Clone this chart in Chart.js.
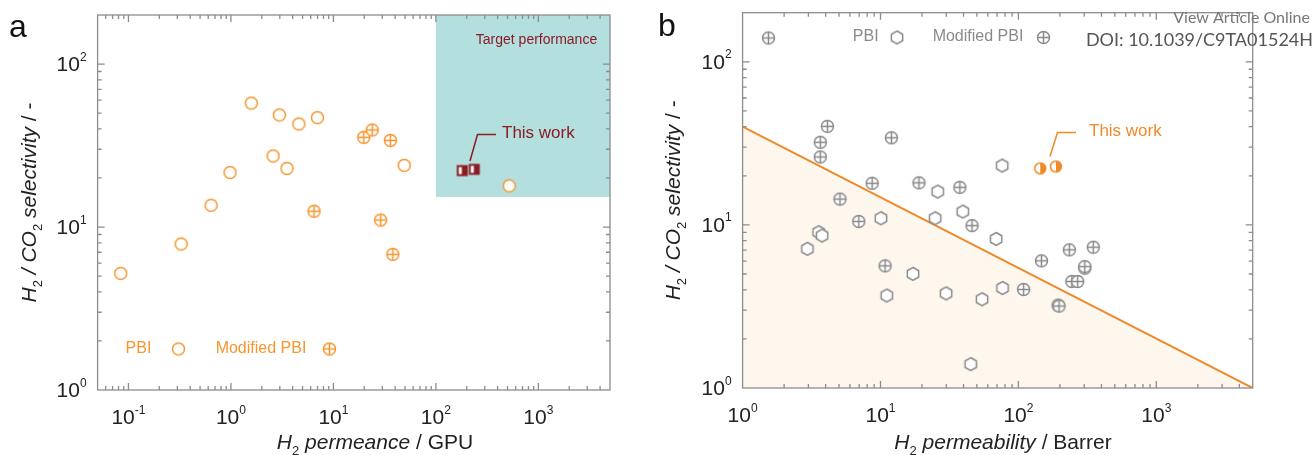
<!DOCTYPE html>
<html>
<head>
<meta charset="utf-8">
<script src="https://cdn.jsdelivr.net/npm/chart.js@4.4.1/dist/chart.umd.min.js"></script>
<style>
  html, body { margin: 0; padding: 0; background: #fff; overflow: hidden; }
  #wrap { position: relative; width: 1314px; height: 455px; }
  canvas { position: absolute; top: 0; }
  #ca { left: 0; }
  #cb { left: 657px; }
</style>
</head>
<body>
<div id="wrap">
  <canvas id="ca" width="657" height="455"></canvas>
  <canvas id="cb" width="657" height="455"></canvas>
</div>
<script>
// panel a: H2 permeance (GPU) vs H2/CO2 selectivity
const pbiA_x = [0.084, 0.327, 0.64, 0.98, 1.58, 2.58, 2.97, 3.52, 4.6, 6.98, 49.1, 520];
const pbiA_y = [5.2, 7.87, 13.6, 21.6, 57.6, 27.3, 48.7, 22.9, 42.9, 46.9, 23.9, 17.9];
const modA_x = [6.47, 19.8, 23.9, 36, 28.9, 38];
const modA_y = [12.5, 35.5, 39.4, 34, 11.04, 6.8];
const workA_x = [181, 237];
const workA_y = [22.2, 22.6];
const targetA = { xMin: 100, yMin: 15.3 };   // target performance box (to the top-right corner)

// panel b: H2 permeability (Barrer) vs H2/CO2 selectivity
const pbiB_x = [2.95, 3.56, 3.77, 10.07, 11.1, 17.2, 26, 24.9, 29.9, 39.5, 54.5, 45.1, 69, 76.2, 76.7];
const pbiB_y = [7.13, 9.02, 8.6, 10.98, 3.69, 5.01, 16.0, 10.98, 3.8, 12.07, 3.5, 1.40, 8.2, 23.1, 4.1];
const modB_x = [1.54, 3.66, 3.66, 4.12, 5.08, 6.96, 8.7, 12.0, 10.8, 19.0, 37.6, 46.1, 109, 147, 194, 197, 234, 244, 269, 303, 303, 349];
const modB_y = [140, 32.1, 26.1, 40.2, 14.4, 10.5, 18.0, 34.2, 5.61, 18.1, 17.0, 9.9, 4.02, 6.02, 3.22, 3.18, 7.03, 4.5, 4.5, 5.43, 5.55, 7.3];
const workB_x = [144, 187];
const workB_y = [22.2, 22.8];
const boundB_x = [1, 5000];
const boundB_y = [40, 1];

const ORANGE = '#f5962f';
const LINE_OR = '#ef8a2a';
const GRAY = '#8a8a8a';
const DARKRED = '#8b1c24';
const TEAL = '#b4dfdf';
const FRAME = '#8c8c8c';
const FONT = '"Liberation Sans", Arial, sans-serif';

const pts = (xs, ys) => xs.map((x, i) => ({ x, y: ys[i] }));

// marker images used as pointStyle
function marker(kind, r, color) {
  const lw = 1.5;
  const s = Math.ceil(2 * r + 2 * lw + 2);
  const c = document.createElement('canvas');
  c.width = c.height = s;
  const g = c.getContext('2d');
  const m = s / 2;
  g.lineWidth = lw; g.strokeStyle = color; g.fillStyle = '#fff';
  if (kind === 'circle' || kind === 'circlePlus') {
    g.beginPath(); g.arc(m, m, r, 0, Math.PI * 2); g.fill(); g.stroke();
    if (kind === 'circlePlus') {
      g.beginPath(); g.moveTo(m - r, m); g.lineTo(m + r, m); g.moveTo(m, m - r); g.lineTo(m, m + r); g.stroke();
    }
  } else if (kind === 'hex') {
    g.beginPath();
    for (let k = 0; k < 6; k++) {
      const a = -Math.PI / 2 + k * Math.PI / 3;
      const px = m + r * Math.cos(a), py = m + r * Math.sin(a);
      k ? g.lineTo(px, py) : g.moveTo(px, py);
    }
    g.closePath(); g.fill(); g.stroke();
  } else if (kind === 'halfSquare') {
    g.fillStyle = color; g.fillRect(m - r, m - r, 2 * r, 2 * r);
    g.fillStyle = '#fff'; g.fillRect(m - r + 2, m - r + 2, r - 2.5, 2 * r - 4);
  } else if (kind === 'halfCircle') {
    g.beginPath(); g.arc(m, m, r, 0, Math.PI * 2); g.fill();
    g.fillStyle = color;
    g.beginPath(); g.arc(m, m, r, -Math.PI / 2, Math.PI / 2); g.closePath(); g.fill();
    g.beginPath(); g.arc(m, m, r, 0, Math.PI * 2); g.stroke();
  }
  return c;
}

const mk = {
  circA: marker('circle', 6, ORANGE),
  plusA: marker('circlePlus', 6, ORANGE),
  sqA: marker('halfSquare', 5.5, DARKRED),
  hexB: marker('hex', 6.5, GRAY),
  plusB: marker('circlePlus', 6, GRAY),
  halfB: marker('halfCircle', 5.5, LINE_OR),
};

// rich text: segments [text, style] with style 'i' italic, 'n' normal, 's' subscript, 'p' superscript
function segFont(st, size) {
  if (st === 's') return `${Math.round(size * 0.62)}px ${FONT}`;
  if (st === 'p') return `${Math.round(size * 0.58)}px ${FONT}`;
  return `${st === 'i' ? 'italic ' : ''}${size}px ${FONT}`;
}
function richWidth(ctx, segs, size) {
  let w = 0;
  for (const [t, st] of segs) { ctx.font = segFont(st, size); w += ctx.measureText(t).width; }
  return w;
}
function richDraw(ctx, segs, size, x, y) {
  for (const [t, st] of segs) {
    ctx.font = segFont(st, size);
    const dy = st === 's' ? size * 0.3 : st === 'p' ? -size * 0.5 : 0;
    ctx.fillText(t, x, y + dy);
    x += ctx.measureText(t).width;
  }
}

function drawFrame(chart) {
  const { ctx, chartArea: a, scales: { x, y } } = chart;
  ctx.save();
  ctx.strokeStyle = FRAME; ctx.lineWidth = 1.3;
  ctx.strokeRect(a.left, a.top, a.right - a.left, a.bottom - a.top);
  ctx.beginPath();
  const ticks = (sc, fn) => {
    const e0 = Math.floor(Math.log10(sc.min)), e1 = Math.ceil(Math.log10(sc.max));
    for (let e = e0; e <= e1; e++) for (let k = 1; k <= 9; k++) {
      const v = k * Math.pow(10, e);
      if (v <= sc.min * 1.0001 || v >= sc.max * 0.9999) continue;
      fn(sc.getPixelForValue(v), k === 1 ? 7 : 4);
    }
  };
  ticks(x, (p, len) => {
    ctx.moveTo(p, a.bottom); ctx.lineTo(p, a.bottom - len);
    ctx.moveTo(p, a.top); ctx.lineTo(p, a.top + len);
  });
  ticks(y, (p, len) => {
    ctx.moveTo(a.left, p); ctx.lineTo(a.left + len, p);
    ctx.moveTo(a.right, p); ctx.lineTo(a.right - len, p);
  });
  ctx.stroke();

  // decade labels
  ctx.fillStyle = '#222'; ctx.textAlign = 'left'; ctx.textBaseline = 'alphabetic';
  const label = (e) => [['10', 'n'], [String(e), 'p']];
  for (let e = Math.ceil(Math.log10(x.min)); e <= Math.floor(Math.log10(x.max)); e++) {
    const segs = label(e);
    const w = richWidth(ctx, segs, 21);
    richDraw(ctx, segs, 21, x.getPixelForValue(Math.pow(10, e)) - w / 2, a.bottom + 34);
  }
  for (let e = Math.ceil(Math.log10(y.min)); e <= Math.floor(Math.log10(y.max)); e++) {
    const segs = label(e);
    const w = richWidth(ctx, segs, 21);
    richDraw(ctx, segs, 21, a.left - 11 - w, y.getPixelForValue(Math.pow(10, e)) + 7);
  }
  ctx.restore();
}

function drawTitles(chart, xSegs, ySegs, xCenter, yTitleX) {
  const { ctx, chartArea: a } = chart;
  ctx.save();
  ctx.fillStyle = '#222'; ctx.textAlign = 'left'; ctx.textBaseline = 'alphabetic';
  const wx = richWidth(ctx, xSegs, 21);
  richDraw(ctx, xSegs, 21, xCenter - wx / 2, 449);
  ctx.translate(yTitleX, (a.top + a.bottom) / 2);
  ctx.rotate(-Math.PI / 2);
  const wy = richWidth(ctx, ySegs, 21);
  richDraw(ctx, ySegs, 21, -wy / 2, 7);
  ctx.restore();
}

const ySegs = [['H', 'i'], ['2', 's'], [' / CO', 'i'], ['2', 's'], [' selectivity', 'i'], [' / -', 'n']];

function text(ctx, t, x, y, font, color, align) {
  ctx.font = font; ctx.fillStyle = color; ctx.textAlign = align || 'left'; ctx.textBaseline = 'middle';
  ctx.fillText(t, x, y);
}
function leader(ctx, color, p) {
  ctx.strokeStyle = color; ctx.lineWidth = 1.5;
  ctx.beginPath(); ctx.moveTo(p[0], p[1]); ctx.lineTo(p[2], p[3]); ctx.lineTo(p[4], p[5]); ctx.stroke();
}

const decorA = {
  id: 'decorA',
  beforeDatasetsDraw(chart) {
    const { ctx, chartArea: a, scales: { x, y } } = chart;
    const l = x.getPixelForValue(targetA.xMin), b = y.getPixelForValue(targetA.yMin);
    ctx.save(); ctx.fillStyle = TEAL; ctx.fillRect(l, a.top, a.right - l, b - a.top); ctx.restore();
  },
  afterDraw(chart) {
    const { ctx } = chart;
    drawFrame(chart);
    drawTitles(chart, [['H', 'i'], ['2', 's'], [' permeance', 'i'], [' / GPU', 'n']], ySegs, 375, 29);
    ctx.save();
    text(ctx, 'Target performance', 536.5, 40, `14px ${FONT}`, DARKRED, 'center');
    text(ctx, 'This work', 502, 133, `17px ${FONT}`, DARKRED);
    leader(ctx, DARKRED, [470, 161, 477.5, 134.5, 496, 134.5]);
    // legend
    text(ctx, 'PBI', 138.5, 349, `16px ${FONT}`, ORANGE, 'center');
    ctx.drawImage(mk.circA, 178.5 - mk.circA.width / 2, 349 - mk.circA.height / 2);
    text(ctx, 'Modified PBI', 261, 349, `16px ${FONT}`, ORANGE, 'center');
    ctx.drawImage(mk.plusA, 329.5 - mk.plusA.width / 2, 349 - mk.plusA.height / 2);
    text(ctx, 'a', 9, 28, `32px ${FONT}`, '#111');
    ctx.restore();
  },
};

const decorB = {
  id: 'decorB',
  afterDraw(chart) {
    const { ctx } = chart;
    drawFrame(chart);
    drawTitles(chart, [['H', 'i'], ['2', 's'], [' permeability', 'i'], [' / Barrer', 'n']], ySegs, 346, 16);
    ctx.save();
    text(ctx, 'This work', 432, 131, `17px ${FONT}`, LINE_OR);
    leader(ctx, LINE_OR, [393, 156.5, 400.5, 132.5, 419, 132.5]);
    text(ctx, 'PBI', 208.7, 37, `16px ${FONT}`, GRAY, 'center');
    ctx.drawImage(mk.hexB, 240 - mk.hexB.width / 2, 37.5 - mk.hexB.height / 2);
    text(ctx, 'Modified PBI', 321, 37, `16px ${FONT}`, GRAY, 'center');
    ctx.drawImage(mk.plusB, 386.5 - mk.plusB.width / 2, 37.5 - mk.plusB.height / 2);
    text(ctx, 'b', 1, 27, `32px ${FONT}`, '#111');
    text(ctx, 'View Article Online', 653, 18, `16px Lato, ${FONT}`, '#777', 'right');
    text(ctx, 'DOI: 10.1039/C9TA01524H', 656, 40, `18px Lato, ${FONT}`, '#555', 'right');
    ctx.restore();
  },
};

function scatterSet(data, img) {
  return { type: 'scatter', data, pointStyle: img, pointRadius: 6, pointHoverRadius: 6, order: 0 };
}

function baseOptions(xMin, xMax, pad) {
  return {
    responsive: false,
    animation: false,
    events: [],
    layout: { padding: pad },
    plugins: { legend: { display: false }, tooltip: { enabled: false } },
    scales: {
      x: { type: 'logarithmic', min: xMin, max: xMax, display: false },
      y: { type: 'logarithmic', min: 1, max: 200, display: false },
    },
  };
}

new Chart(document.getElementById('ca'), {
  type: 'scatter',
  data: {
    datasets: [
      scatterSet(pts(pbiA_x, pbiA_y), mk.circA),
      scatterSet(pts(modA_x, modA_y), mk.plusA),
      scatterSet(pts(workA_x, workA_y), mk.sqA),
    ],
  },
  options: baseOptions(0.05, 5000, { left: 97.6, right: 47, top: 15, bottom: 65 }),
  plugins: [decorA],
});

new Chart(document.getElementById('cb'), {
  type: 'scatter',
  data: {
    datasets: [
      {
        type: 'line', data: pts(boundB_x, boundB_y), borderColor: LINE_OR, borderWidth: 2,
        fill: 'start', backgroundColor: '#fef7ee', pointRadius: 0, order: 10,
      },
      scatterSet(pts(pbiB_x, pbiB_y), mk.hexB),
      scatterSet(pts(modB_x, modB_y), mk.plusB),
      scatterSet(pts(workB_x, workB_y), mk.halfB),
    ],
  },
  options: baseOptions(1, 5000, { left: 85.6, right: 61.3, top: 12.7, bottom: 67 }),
  plugins: [decorB],
});
</script>
</body>
</html>
